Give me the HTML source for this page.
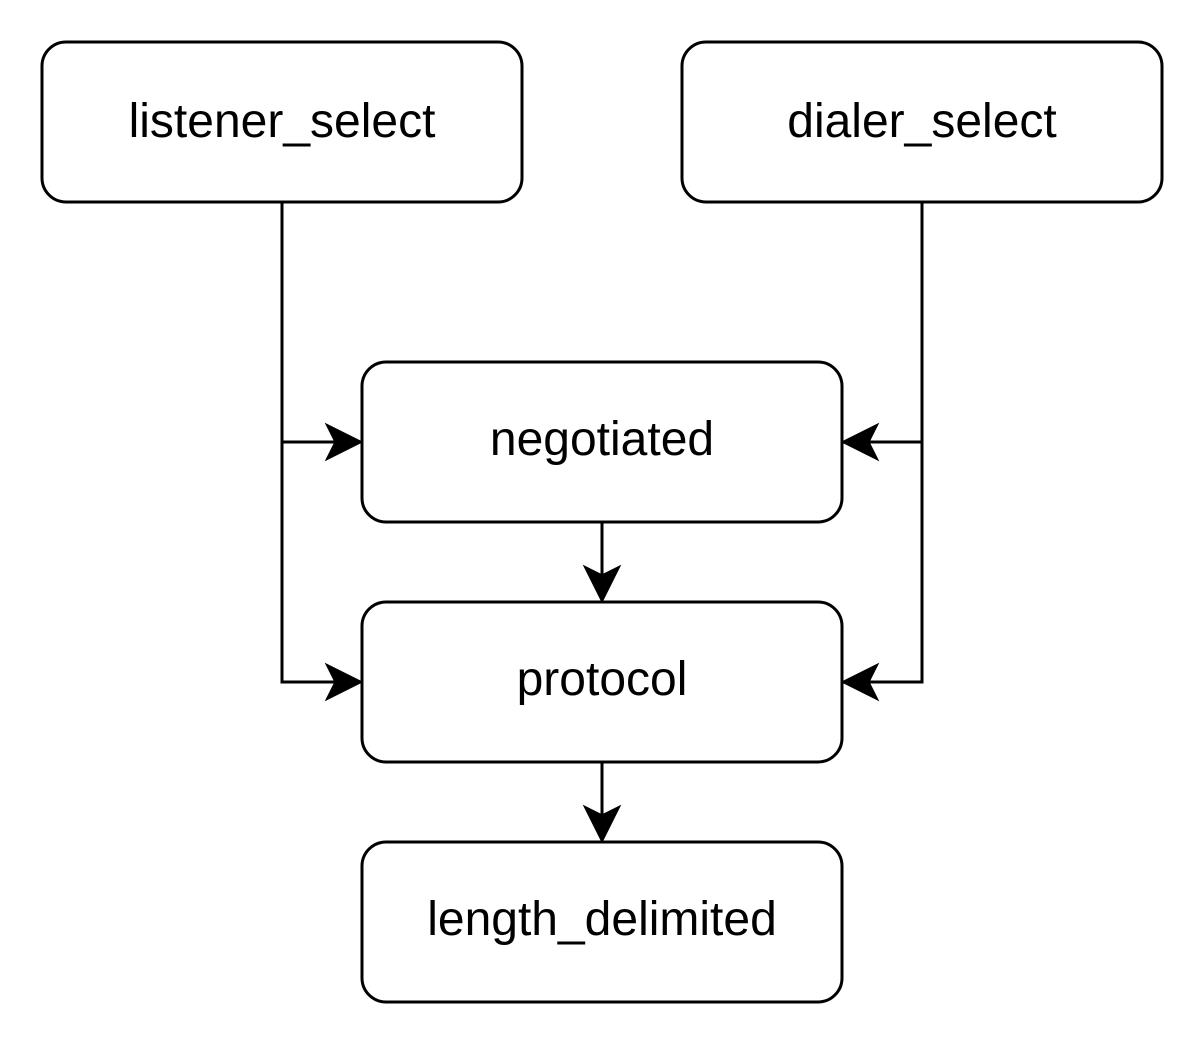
<!DOCTYPE html>
<html><head><meta charset="utf-8"><style>
html,body{margin:0;padding:0;background:#fff;}
svg{display:block;}
text{font-family:"Liberation Sans",Arial,sans-serif;font-size:48px;fill:#000;}
</style></head><body>
<svg width="1204" height="1044" viewBox="0 0 1204 1044" xmlns="http://www.w3.org/2000/svg">
<g fill="#fff" stroke="#000" stroke-width="3">
<rect x="42" y="42" width="480" height="160" rx="24"/>
<rect x="682" y="42" width="480" height="160" rx="24"/>
<rect x="362" y="362" width="480" height="160" rx="24"/>
<rect x="362" y="602" width="480" height="160" rx="24"/>
<rect x="362" y="842" width="480" height="160" rx="24"/>
</g>
<g fill="none" stroke="#000" stroke-width="3">
<polyline points="282,202 282,682 340,682"/>
<line x1="282" y1="442" x2="340" y2="442"/>
<polyline points="922,202 922,682 864,682"/>
<line x1="922" y1="442" x2="864" y2="442"/>
<line x1="602" y1="522" x2="602" y2="580"/>
<line x1="602" y1="762" x2="602" y2="820"/>
</g>
<g fill="#000" stroke="#000" stroke-width="3" stroke-linejoin="miter">
<polygon points="360,442 328,426 336,442 328,458"/>
<polygon points="360,682 328,666 336,682 328,698"/>
<polygon points="844,442 876,426 868,442 876,458"/>
<polygon points="844,682 876,666 868,682 876,698"/>
<polygon points="602,600 586,568 602,576 618,568"/>
<polygon points="602,840 586,808 602,816 618,808"/>
</g>
<g text-anchor="middle">
<text x="282" y="137">listener_select</text>
<text x="922" y="137">dialer_select</text>
<text x="602" y="455">negotiated</text>
<text x="602" y="695">protocol</text>
<text x="602" y="935">length_delimited</text>
</g>
</svg>
</body></html>
